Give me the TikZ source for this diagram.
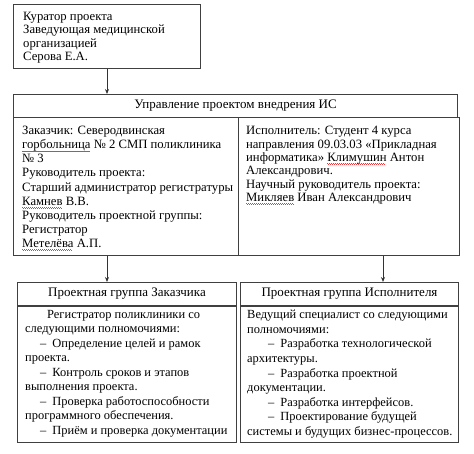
\documentclass[tikz,border=0pt]{standalone}
\usepackage{fontspec}
\setmainfont{Liberation Serif}
\usetikzlibrary{arrows.meta, positioning, calc}

% red wavy underline of the spell checker
\newcommand{\spl}[1]{\setbox0\hbox{#1}\rlap{\color{red!80}\hbox to \wd0{\leaders\hbox{\rule[-2.4pt]{1pt}{0.6pt}\rule[-3.1pt]{1pt}{0.6pt}}\hfil}}#1}

\tikzset{
    cell/.style={draw=black!75, line width=1pt, inner sep=0pt},
    head/.style={cell, font=\fontsize{13}{14}\selectfont},
    txt/.style={inner sep=0pt, align=left, anchor=north west, font=\fontsize{12.7}{13.4}\selectfont},
    link/.style={draw=black!80, line width=0.9pt, -{Stealth[length=5pt, width=4pt]}}
}

\begin{document}
\begin{tikzpicture}[x=1pt, y=-1pt]
    \useasboundingbox (0,0) rectangle (474,453);

    % Curator
    \node[cell, anchor=north west, minimum width=187pt, minimum height=64pt] (curator) at (13,4) {};
    \node[txt] (curatortxt) at (23,12) {Куратор проекта\\Заведующая медицинской\\организацией\\Серова Е.А.};

    % Project management
    \node[head, anchor=north west, minimum width=444pt, minimum height=23pt] (upr) at (13,94) {Управление проектом внедрения ИС};

    % Customer and executor
    \node[cell, anchor=north west, minimum width=225pt, minimum height=138pt] (zak) at (13,117) {};
    \node[cell, anchor=north west, minimum width=221pt, minimum height=138pt] (isp) at (238,117) {};
    \node[txt, font=\fontsize{12.7}{14.1}\selectfont] (zaktxt) at (22,126) {Заказчик: Северодвинская\\
        \spl{горбольница} № 2 СМП поликлиника\\№ 3\\Руководитель проекта:\\
        Старший администратор регистратуры\\\spl{Камнев} В.В.\\
        Руководитель проектной группы:\\Регистратор\\\spl{Метелёва} А.П.};
    \node[txt] (isptxt) at (246,126) {Исполнитель: Студент 4 курса\\
        направления 09.03.03 «Прикладная\\информатика» \spl{Климушин} Антон\\
        Александрович.\\Научный руководитель проекта:\\\spl{Микляев} Иван Александрович};

    % Customer project group
    \node[head, anchor=north west, minimum width=219pt, minimum height=23pt] (grpZ) at (17,282) {Проектная группа Заказчика};
    \node[cell, anchor=north, minimum width=219pt, minimum height=136pt] (grpZbody) at (grpZ.south) {};
    \node[txt, font=\fontsize{12.45}{14.5}\selectfont] (grpZtxt) at (25,310) {\hspace{22pt}Регистратор поликлиники со\\
        следующими полномочиями:\\
        \hspace{15pt}–\hspace{6pt}Определение целей и рамок\\проекта.\\
        \hspace{15pt}–\hspace{6pt}Контроль сроков и этапов\\выполнения проекта.\\
        \hspace{15pt}–\hspace{6pt}Проверка работоспособности\\программного обеспечения.\\
        \hspace{15pt}–\hspace{6pt}Приём и проверка документации};

    % Executor project group
    \node[head, anchor=north west, minimum width=218pt, minimum height=23pt] (grpI) at (240,282) {Проектная группа Исполнителя};
    \node[cell, anchor=north, minimum width=218pt, minimum height=136pt] (grpIbody) at (grpI.south) {};
    \node[txt, font=\fontsize{12.45}{14.6}\selectfont] (grpItxt) at (247,310) {Ведущий специалист со следующими\\
        полномочиями:\\
        \hspace{21pt}–\hspace{6pt}Разработка технологической\\архитектуры.\\
        \hspace{21pt}–\hspace{6pt}Разработка проектной\\документации.\\
        \hspace{21pt}–\hspace{6pt}Разработка интерфейсов.\\
        \hspace{21pt}–\hspace{6pt}Проектирование будущей\\системы и будущих бизнес-процессов.};

    % Arrows
    \coordinate (ispout) at ([xshift=34pt]isp.south);
    \draw[link] (curator.south) -- (curator.south |- upr.north);
    \draw[link] (curator.south |- zak.south) -- (curator.south |- grpZ.north);
    \draw[link] (ispout) -- (ispout |- grpI.north);
\end{tikzpicture}
\end{document}
